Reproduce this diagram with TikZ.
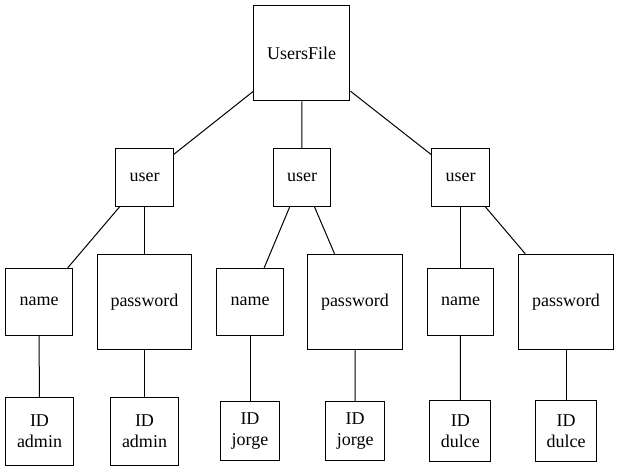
\documentclass[tikz,border=0pt]{standalone}
\usepackage{fontspec}
\setmainfont{Liberation Serif}
\tikzset
{
	boxnode/.style = {rectangle, draw=black, align=center, inner sep=0pt, line width=1pt, font=\fontsize{18}{21}\selectfont},
	filenode/.style = {boxnode, minimum width=96.5pt, minimum height=95.5pt},
	usernode/.style = {boxnode, minimum size=57.5pt},
	namenode/.style = {boxnode, minimum size=66.7pt},
	passnode/.style = {boxnode, minimum width=94.5pt, minimum height=95pt},
	idnode/.style = {boxnode, minimum size=#1}
}

\begin{document}
\begin{tikzpicture}[x=1pt, y=-1pt, line width=1pt]
\useasboundingbox (0,0) rectangle (619,471);
\node[filenode] (file) at (301.7,53) {UsersFile};
\node[usernode] (user1) at (144.5,177.5) {user};
\node[usernode] (user2) at (302,177.5) {user};
\node[usernode] (user3) at (460.5,177.5) {user};
\node[namenode] (name1) at (39,301.7) {name};
\node[passnode] (pass1) at (144.5,301.8) {password};
\node[namenode] (name2) at (250,301.7) {name};
\node[passnode] (pass2) at (355,301.8) {password};
\node[namenode] (name3) at (460.5,301.7) {name};
\node[passnode] (pass3) at (566,301.8) {password};
\node[idnode=67.7pt] (id1) at (39.5,431.2) {ID\\admin};
\node[idnode=67.7pt] (id2) at (144.5,431.2) {ID\\admin};
\node[idnode=59pt] (id3) at (250,431.2) {ID\\jorge};
\node[idnode=59pt] (id4) at (355.2,431.2) {ID\\jorge};
\node[idnode=61.3pt] (id5) at (460.3,431.3) {ID\\dulce};
\node[idnode=61.3pt] (id6) at (566,431.3) {ID\\dulce};
\draw (file) -- (user1);
\draw (file) -- (user2);
\draw (file) -- (user3);
\draw (user1) -- (name1);
\draw (user1) -- (pass1);
\draw (user2) -- (name2);
\draw (user2) -- (pass2);
\draw (user3) -- (name3);
\draw (user3) -- (pass3);
\draw (name1) -- (id1);
\draw (pass1) -- (id2);
\draw (name2) -- (id3);
\draw (pass2) -- (id4);
\draw (name3) -- (id5);
\draw (pass3) -- (id6);
\end{tikzpicture}
\end{document}
